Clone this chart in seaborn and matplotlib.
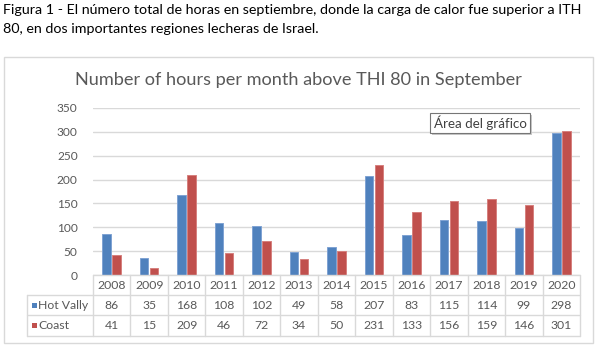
import matplotlib
matplotlib.use("Agg")
import matplotlib.pyplot as plt
import matplotlib.patches as mpatches
from matplotlib.lines import Line2D
from matplotlib.transforms import blended_transform_factory
import seaborn as sns
import pandas as pd

# Hours per month above THI 80 in September
years = ["2008", "2009", "2010", "2011", "2012", "2013", "2014",
         "2015", "2016", "2017", "2018", "2019", "2020"]
hot_vally = [86, 35, 168, 108, 102, 49, 58, 207, 83, 115, 114, 99, 298]
coast = [41, 15, 209, 46, 72, 34, 50, 231, 133, 156, 159, 146, 301]
series_names = ["Hot Vally", "Coast"]
y_ticks = [0, 50, 100, 150, 200, 250, 300, 350]

caption = ["Figura 1 - El número total de horas en septiembre, donde la carga de calor fue superior a ITH",
           "80, en dos importantes regiones lecheras de Israel."]
title = "Number of hours per month above THI 80 in September"
tooltip = "Área del gráfico"

colors = ["#4F81BD", "#C0504D"]
edges = ["#7FA3D3", "#D6807E"]
grid_c = "#D9D9D9"
text_c = "#595959"

df = pd.DataFrame({
    "year": years * 2,
    "hours": hot_vally + coast,
    "region": [series_names[0]] * len(years) + [series_names[1]] * len(years),
})

sns.set_theme(style="white")
plt.rcParams["font.family"] = ["Lato", "DejaVu Sans"]

W, H = 600, 348
fig = plt.figure(figsize=(W / 100, H / 100), dpi=100)
fig.patch.set_facecolor("white")


def fx(px):
    return px / W


def fy(py):
    return 1 - py / H


# Chart frame
fig.patches.append(mpatches.Rectangle((fx(4), fy(343)), fx(593) - fx(4), fy(57) - fy(343),
                                      transform=fig.transFigure, fill=False,
                                      edgecolor=grid_c, linewidth=1.0, zorder=0))

# Caption above the chart
fig.text(fx(3), fy(10), caption[0], fontsize=10.3, color="black", va="center", ha="left")
fig.text(fx(3), fy(29), caption[1], fontsize=10.3, color="black", va="center", ha="left")

ax = fig.add_axes([fx(93), fy(275), fx(580) - fx(93), fy(108) - fy(275)])
sns.barplot(data=df, x="year", y="hours", hue="region", palette=colors,
            width=0.535, gap=0.15, ax=ax, legend=False, saturation=1)
for bar in ax.patches:
    bar.set_edgecolor(edges[0] if bar.get_facecolor()[2] > 0.5 else edges[1])
    bar.set_linewidth(0.7)

ax.set_xlim(-0.5, len(years) - 0.5)
ax.set_ylim(0, 350)
ax.set_yticks(y_ticks)
ax.set_yticklabels([str(t) for t in y_ticks], color=text_c, fontsize=8.6)
ax.tick_params(axis="y", length=0, pad=11)
ax.set_xticks([])
ax.set_xlabel("")
ax.set_ylabel("")
for s in ax.spines.values():
    s.set_visible(False)
ax.yaxis.grid(True, color=grid_c, linewidth=1.0)
ax.set_axisbelow(True)

fig.text(fx(298), fy(80), title, fontsize=13.1, color=text_c, ha="center", va="center")

# Data table under the bars
tr = blended_transform_factory(ax.transData, fig.transFigure)
n = len(years)
fig.lines.append(Line2D([-0.5, n - 0.5], [fy(275), fy(275)], transform=tr,
                        color=grid_c, linewidth=1.0))
for py in [295, 315, 336]:
    fig.lines.append(Line2D([fx(27), fx(580)], [fy(py), fy(py)], transform=fig.transFigure,
                            color=grid_c, linewidth=1.0))
for k in range(n + 1):
    fig.lines.append(Line2D([k - 0.5, k - 0.5], [fy(275), fy(336)], transform=tr,
                            color=grid_c, linewidth=1.0))
fig.lines.append(Line2D([fx(27), fx(27)], [fy(295), fy(336)], transform=fig.transFigure,
                        color=grid_c, linewidth=1.0))

for i, yr in enumerate(years):
    fig.text(i, fy(285.5), yr, transform=tr, ha="center", va="center", fontsize=8.8, color=text_c)
    fig.text(i, fy(305.5), str(hot_vally[i]), transform=tr, ha="center", va="center",
             fontsize=8.8, color=text_c)
    fig.text(i, fy(325.5), str(coast[i]), transform=tr, ha="center", va="center",
             fontsize=8.8, color=text_c)

for name, col, py in zip(series_names, colors, [305.5, 325.5]):
    fig.patches.append(mpatches.Rectangle((fx(32), fy(py + 2.5)), fx(5), fy(py - 2.5) - fy(py + 2.5),
                                          transform=fig.transFigure, facecolor=col,
                                          edgecolor="none"))
    fig.text(fx(38.5), fy(py), name, ha="left", va="center", fontsize=8.8, color=text_c)

# Hover label box
fig.patches.append(mpatches.Rectangle((fx(432), fy(135)), fx(100), fy(115) - fy(135),
                                      transform=fig.transFigure, facecolor="#C8C8C8",
                                      edgecolor="none", zorder=5))
fig.patches.append(mpatches.Rectangle((fx(430), fy(133)), fx(100), fy(113) - fy(133),
                                      transform=fig.transFigure, facecolor="white",
                                      edgecolor="#767676", linewidth=0.8, zorder=6))
fig.text(fx(480), fy(123), tooltip, ha="center", va="center", fontsize=9.6,
         color="#404040", zorder=7)

fig.savefig("out.png", dpi=100, facecolor="white")
